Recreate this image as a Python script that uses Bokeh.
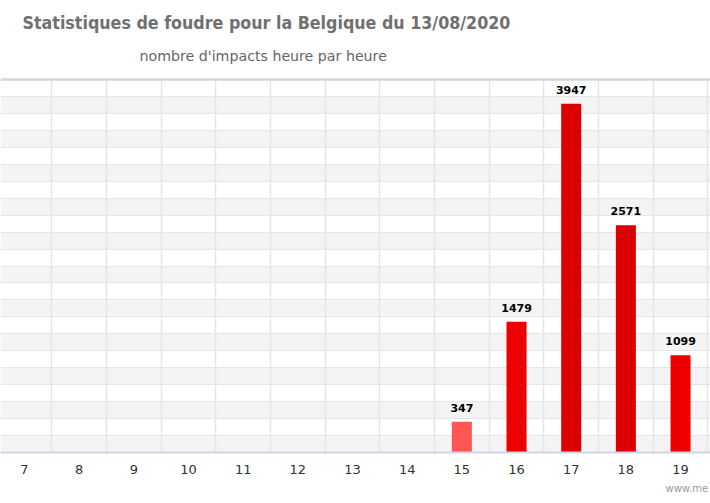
from bokeh.plotting import figure
from bokeh.models import Title, Label, Span, BoxAnnotation, FixedTicker, ColumnDataSource, Range1d
from bokeh.core.properties import value
from bokeh.embed import file_html
from bokeh.resources import INLINE

# ---- data ----
hours = [7, 8, 9, 10, 11, 12, 13, 14, 15, 16, 17, 18, 19]
impacts = [0, 0, 0, 0, 0, 0, 0, 0, 347, 1479, 3947, 2571, 1099]
hour_labels = [str(h) for h in hours]
title_text = "Statistiques de foudre pour la Belgique du 13/08/2020"
subtitle_text = "nombre d'impacts heure par heure"
credit_text = "www.me"

# ---- styles / layout ----
bar_colors = ["#ff5555" if v < 500 else ("#dd0000" if v > 2000 else "#ee0000") for v in impacts]
Y_MAX = 4220
N_BANDS = 22
step = Y_MAX / N_BANDS
PX_PER_CAT = 54.67
W, H = 710, 503
PLOT_TOP, PLOT_BOTTOM = 79, 452          # visible plotting area (pixels)
X0 = 7 - 24 / PX_PER_CAT
X1 = X0 + W / PX_PER_CAT
UNITS_PER_PX = Y_MAX / (PLOT_BOTTOM - PLOT_TOP)


def ypx(py):
    return (PLOT_BOTTOM - py) * UNITS_PER_PX


def xpx(px):
    return X0 + px / PX_PER_CAT


p = figure(width=W, height=H, output_backend="svg", toolbar_location=None,
           x_range=Range1d(X0, X1), y_range=Range1d(0, ypx(0)),
           min_border_left=0, min_border_right=0, min_border_top=0,
           min_border_bottom=H - PLOT_BOTTOM, title=None)
p.outline_line_color = None
p.background_fill_color = "white"
p.border_fill_color = "white"

# alternating bands
band_b = [i * step for i in range(0, N_BANDS, 2)]
band_t = [b + step for b in band_b]
p.quad(left=X0, right=X1, bottom=band_b, top=band_t, fill_color="#f4f4f4",
       line_color=None, level="image")

# grids
p.ygrid.ticker = FixedTicker(ticks=[i * step for i in range(0, N_BANDS + 1)])
p.ygrid.grid_line_color = "#e6e6e6"
p.ygrid.grid_line_width = 1
p.xgrid.ticker = FixedTicker(ticks=[h + 0.5 for h in range(6, 20)])
p.xgrid.grid_line_color = "#e6e6e6"
p.xgrid.grid_line_width = 1.5

# white area above the plot
p.add_layout(BoxAnnotation(bottom=Y_MAX, fill_color="white", fill_alpha=1.0,
                           line_color=None, level="underlay"))
p.add_layout(Span(location=Y_MAX, dimension="width", line_color="#d6d6d6", line_width=2.5))

# bars + labels
src = ColumnDataSource(dict(x=hours, top=impacts, color=bar_colors))
p.vbar(x="x", top="top", width=0.366, color="color", line_color=None, source=src)

lab_x = [h for h, v in zip(hours, impacts) if v > 0]
lab_y = [v for v in impacts if v > 0]
lab_t = [str(v) for v in impacts if v > 0]
p.text(x=lab_x, y=lab_y, text=lab_t, text_align="center", text_baseline="bottom",
       y_offset=-10, text_font=value("DejaVu Sans"), text_font_style="bold",
       text_font_size="11px", text_color="#000000")

# axes
p.yaxis.visible = False
xa = p.xaxis[0]
xa.ticker = FixedTicker(ticks=hours)
xa.major_label_overrides = {h: l for h, l in zip(hours, hour_labels)}
xa.major_tick_line_color = None
xa.minor_tick_line_color = None
xa.axis_line_color = "#ccd6eb"
xa.axis_line_width = 2
xa.major_label_standoff = 6
xa.major_label_text_font = "DejaVu Sans"
xa.major_label_text_font_size = "13px"
xa.major_label_text_color = "#333333"

# titles
p.add_layout(Label(x=xpx(22), y=ypx(22.5), text=title_text, text_baseline="alphabetic",
                   text_align="left", text_font="DejaVu Sans Condensed", text_font_size="17.7px",
                   text_font_style="bold", text_color="#707070"))
p.add_layout(Label(x=xpx(139), y=ypx(55), text=subtitle_text, text_baseline="alphabetic",
                   text_align="left", text_font="DejaVu Sans", text_font_size="14.2px",
                   text_color="#666666"))

credit = Title(text=credit_text, align="left", offset=665, text_font="DejaVu Sans",
               text_font_size="10px", text_font_style="normal", text_color="#999999", standoff=9)
p.add_layout(credit, "below")

open("out.html", "w").write(file_html(p, INLINE))
